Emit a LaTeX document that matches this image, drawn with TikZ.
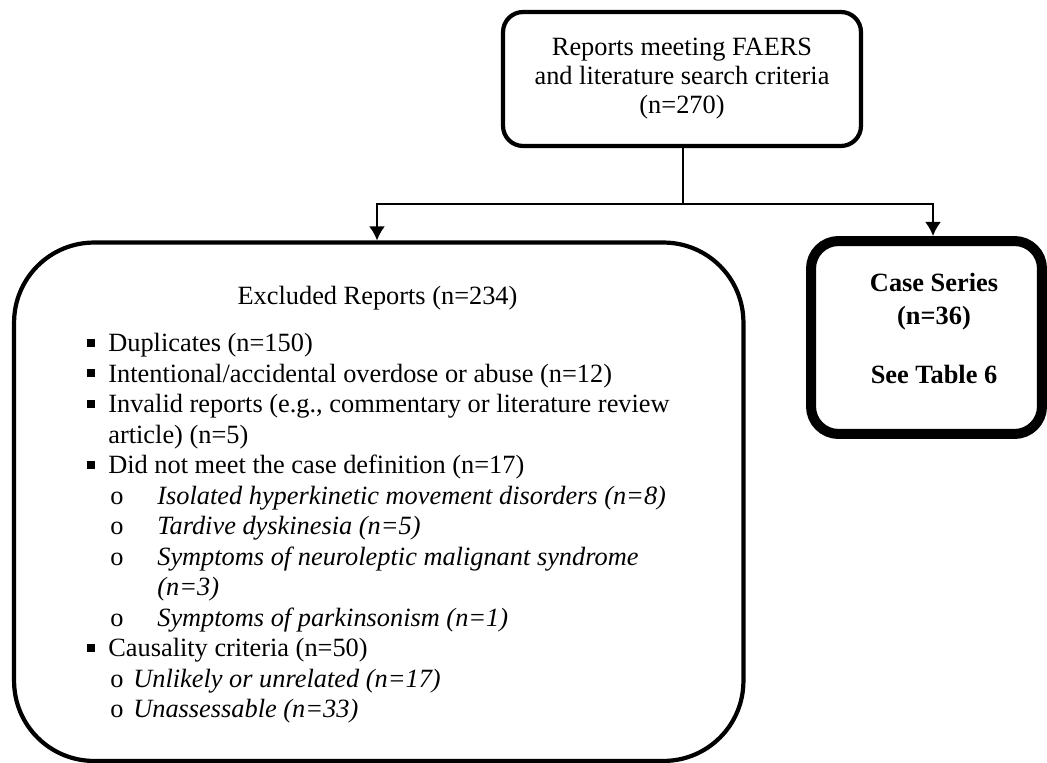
\documentclass[tikz,border=0pt]{standalone}
\usepackage{fontspec}
\setmainfont{Liberation Serif}
\usetikzlibrary{arrows.meta}

% Bullet marks of the list
\newcommand{\sqbul}{\makebox[0.42cm][l]{\rule[0.1cm]{0.16cm}{0.16cm}}}
\newcommand{\subbul}{\hspace*{0.46cm}\makebox[0.94cm][l]{o}}
\newcommand{\causebul}{\hspace*{0.46cm}\makebox[0.46cm][l]{o}}

\begin{document}
\begin{tikzpicture}[x=0.02cm, y=-0.02cm, >={Latex[length=8pt,width=9pt]},
    every node/.style={font=\fontsize{15pt}{17.36pt}\selectfont},
    roundbox/.style={draw, line width=2.4pt, rounded corners=#1, inner sep=0pt},
    heavybox/.style={draw, line width=5.7pt, rounded corners=0.55cm, inner sep=0pt}]
        \useasboundingbox (0,0) rectangle (1047,763);

        % Defining the boxes
        \node[roundbox=0.4cm, minimum width=7.16cm, minimum height=2.68cm, align=center,
              font=\fontsize{15pt}{16.5pt}\selectfont] (source) at (682,79)
              {Reports meeting FAERS\\and literature search criteria\\(n=270)};
        \node[roundbox=1.6cm, minimum width=14.59cm, minimum height=10.37cm] (excluded) at (378.75,501.75) {};
        \node[heavybox, minimum width=4.62cm, minimum height=3.86cm, align=center,
              font=\fontsize{15pt}{18.8pt}\selectfont\bfseries] (caseseries) at (926.5,337.5)
              {\hspace*{0.3cm}Case Series\\\hspace*{0.3cm}(n=36)\\[15pt]\hspace*{0.3cm}See Table 6\rule[-0.36cm]{0pt}{0pt}};

        % Defining the coordinates
        \coordinate (split) at (683,204);
        \coordinate (leftturn) at (377,204);
        \coordinate (rightturn) at (933,204);

        % Drawing lines with arrows
        \draw[line width=1pt] (source.south -| split) -- (split);
        \draw[line width=1pt, ->] (split) -- (leftturn) -- (leftturn |- excluded.north);
        \draw[line width=1pt, ->] (split) -- (rightturn) -- (rightturn |- caseseries.north);

        % Adding labels
        \node[anchor=base, inner sep=0pt] (exctitle) at (377.5,304) {Excluded Reports (n=234)};
        \node[anchor=north west, align=left, inner sep=0pt] (reasons) at (87,333) {%
            \sqbul Duplicates (n=150)\\
            \sqbul Intentional/accidental overdose or abuse (n=12)\\
            \sqbul Invalid reports (e.g., commentary or literature review\\
            \hspace*{0.42cm}article) (n=5)\\
            \sqbul Did not meet the case definition (n=17)\\
            \subbul\textit{Isolated hyperkinetic movement disorders (n=8)}\\
            \subbul\textit{Tardive dyskinesia (n=5)}\\
            \subbul\textit{Symptoms of neuroleptic malignant syndrome}\\
            \hspace*{1.4cm}\textit{(n=3)}\\
            \subbul\textit{Symptoms of parkinsonism (n=1)}\\
            \sqbul Causality criteria (n=50)\\
            \causebul\textit{Unlikely or unrelated (n=17)}\\
            \causebul\textit{Unassessable (n=33)}};
    \end{tikzpicture}
\end{document}
